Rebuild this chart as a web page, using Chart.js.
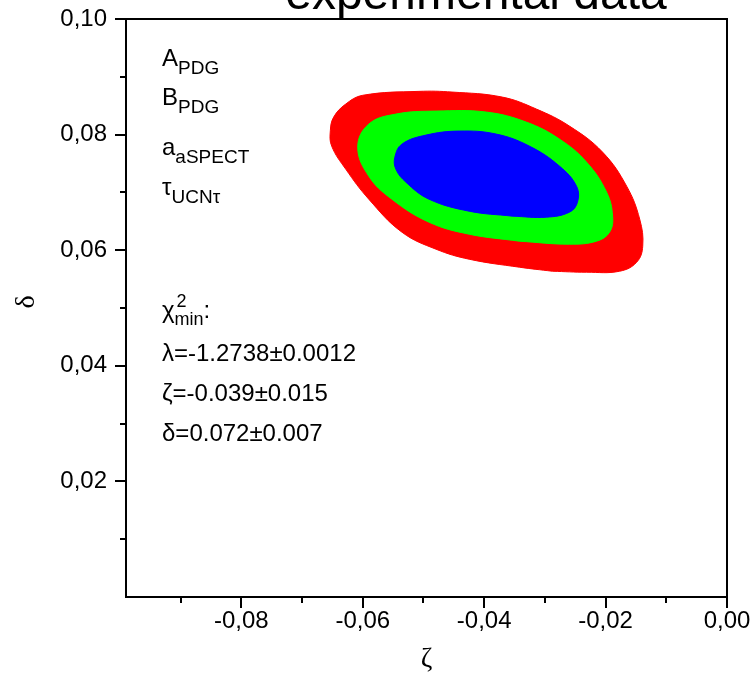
<!DOCTYPE html>
<html>
<head>
<meta charset="utf-8">
<script src="https://cdn.jsdelivr.net/npm/chart.js@4.4.1/dist/chart.umd.min.js"></script>
<style>
  html, body { margin: 0; padding: 0; background: #fff; }
  #wrap { width: 755px; height: 686px; }
</style>
</head>
<body>
<div id="wrap"><canvas id="myChart" width="755" height="686"></canvas></div>
<script>
// confidence contours (zeta, delta), outer to inner
const redZeta = [-0.02876, -0.03421, -0.04248, -0.04793, -0.05355, -0.05901, -0.06281, -0.06512, -0.06534, -0.06479, -0.06281, -0.06000, -0.05074, -0.04529, -0.03702, -0.03140, -0.02595, -0.02050, -0.01653, -0.01438, -0.01388, -0.01488, -0.01769, -0.02314, -0.02876];
const redDelta = [0.05636, 0.05706, 0.05844, 0.06017, 0.06312, 0.06883, 0.07403, 0.07801, 0.08066, 0.08303, 0.08528, 0.08680, 0.08748, 0.08736, 0.08649, 0.08442, 0.08147, 0.07697, 0.07108, 0.06537, 0.06069, 0.05792, 0.05636, 0.05619, 0.05636];

const greenZeta = [-0.03421, -0.04248, -0.04909, -0.05521, -0.05901, -0.06083, -0.05901, -0.05455, -0.04793, -0.03967, -0.03306, -0.02760, -0.02314, -0.01983, -0.01884, -0.01934, -0.02149, -0.02595, -0.03421];
const greenDelta = [0.06156, 0.06277, 0.06485, 0.06883, 0.07281, 0.07784, 0.08182, 0.08355, 0.08407, 0.08390, 0.08216, 0.07922, 0.07524, 0.07004, 0.06589, 0.06312, 0.06156, 0.06104, 0.06156];

const blueZeta = [-0.03537, -0.04248, -0.04909, -0.05289, -0.05455, -0.05471, -0.05355, -0.04959, -0.04413, -0.03802, -0.03256, -0.02760, -0.02479, -0.02463, -0.02595, -0.02975, -0.03537];
const blueDelta = [0.06589, 0.06675, 0.06883, 0.07177, 0.07403, 0.07610, 0.07835, 0.07991, 0.08061, 0.08009, 0.07801, 0.07455, 0.07108, 0.06831, 0.06658, 0.06571, 0.06589];

const xMajorTicks = [-0.08, -0.06, -0.04, -0.02, 0.0];
const xMinorTicks = [-0.09, -0.07, -0.05, -0.03, -0.01];
const yMajorTicks = [0.02, 0.04, 0.06, 0.08, 0.10];
const yMinorTicks = [0.01, 0.03, 0.05, 0.07, 0.09];

const toPoints = (xs, ys) => xs.map((v, i) => ({ x: v, y: ys[i] }));
const commaFmt = (v) => v.toFixed(2).replace(".", ",");

const SANS = "'Liberation Sans', Arial, sans-serif";
const SERIF = "'Liberation Serif', 'DejaVu Serif', serif";

// draws a line of text made of [text, kind] parts, kind: n / sub / both (sup over sub)
function drawRich(ctx, parts, x, y) {
  let cx = x;
  parts.forEach(([t, kind, t2]) => {
    if (kind === "n") {
      ctx.font = "24px " + SANS;
      ctx.fillText(t, cx, y);
      cx += ctx.measureText(t).width;
    } else if (kind === "sub") {
      ctx.font = "19px " + SANS;
      ctx.fillText(t, cx, y + 8);
      cx += ctx.measureText(t).width;
    } else if (kind === "both") {
      ctx.font = "18px " + SANS;
      ctx.fillText(t, cx + 2, y - 11);
      const w1 = ctx.measureText(t).width;
      ctx.fillText(t2, cx, y + 7);
      cx += Math.max(w1, ctx.measureText(t2).width);
    }
  });
}

const frameAndText = {
  id: "frameAndText",
  afterDraw(chart) {
    const {
      ctx,
      chartArea: { left, right, top, bottom },
      scales: { x, y },
    } = chart;
    ctx.save();
    ctx.strokeStyle = "#000";
    ctx.lineWidth = 2;
    ctx.strokeRect(left, top, right - left, bottom - top);

    ctx.beginPath();
    xMajorTicks.forEach((v) => {
      const px = Math.round(x.getPixelForValue(v));
      ctx.moveTo(px, bottom);
      ctx.lineTo(px, bottom + 11);
    });
    xMinorTicks.forEach((v) => {
      const px = Math.round(x.getPixelForValue(v));
      ctx.moveTo(px, bottom);
      ctx.lineTo(px, bottom + 6);
    });
    yMajorTicks.forEach((v) => {
      const py = Math.round(y.getPixelForValue(v));
      ctx.moveTo(left, py);
      ctx.lineTo(left - 11, py);
    });
    yMinorTicks.forEach((v) => {
      const py = Math.round(y.getPixelForValue(v));
      ctx.moveTo(left, py);
      ctx.lineTo(left - 6, py);
    });
    ctx.stroke();

    ctx.fillStyle = "#000";

    // title, cut by the top of the picture
    ctx.font = "48px " + SANS;
    ctx.textAlign = "center";
    ctx.textBaseline = "alphabetic";
    ctx.fillText("experimental data", 476, 9);

    // axis titles
    ctx.font = "28px " + SERIF;
    ctx.textBaseline = "middle";
    ctx.fillText("ζ", (left + right) / 2, 660);
    ctx.save();
    ctx.translate(27, 302);
    ctx.rotate(-Math.PI / 2);
    ctx.fillText("δ", 0, 0);
    ctx.restore();

    ctx.textAlign = "left";
    ctx.textBaseline = "alphabetic";
    const tx = 162;
    drawRich(ctx, [["A", "n"], ["PDG", "sub"]], tx, 66);
    drawRich(ctx, [["B", "n"], ["PDG", "sub"]], tx, 105);
    drawRich(ctx, [["a", "n"], ["aSPECT", "sub"]], tx, 155);
    drawRich(ctx, [["τ", "n"], ["UCNτ", "sub"]], tx, 195);

    drawRich(ctx, [["χ", "n"], ["2", "both", "min"], [":", "n"]], tx, 318);
    drawRich(ctx, [["λ=-1.2738±0.0012", "n"]], tx, 361);
    drawRich(ctx, [["ζ=-0.039±0.015", "n"]], tx, 401);
    drawRich(ctx, [["δ=0.072±0.007", "n"]], tx, 441);
    ctx.restore();
  },
};

const contour = (pts, color, order) => ({
  data: pts,
  showLine: true,
  fill: "shape",
  backgroundColor: color,
  borderColor: color,
  borderWidth: 1,
  pointRadius: 0,
  tension: 0.4,
  order: order,
});

new Chart(document.getElementById("myChart").getContext("2d"), {
  type: "scatter",
  data: {
    datasets: [
      contour(toPoints(redZeta, redDelta), "#FF0000", 3),
      contour(toPoints(greenZeta, greenDelta), "#00FF00", 2),
      contour(toPoints(blueZeta, blueDelta), "#0000FF", 1),
    ],
  },
  options: {
    responsive: false,
    animation: false,
    layout: { padding: { top: 19, right: 28, left: 0, bottom: 0 } },
    scales: {
      x: {
        type: "linear",
        min: -0.099,
        max: 0,
        afterBuildTicks: (scale) => {
          scale.ticks = xMajorTicks.map((v) => ({ value: v }));
        },
        afterFit: (scale) => {
          scale.height = 89;
          scale.paddingLeft = 0;
          scale.paddingRight = 0;
        },
        ticks: {
          color: "#000",
          font: { family: SANS, size: 24 },
          padding: 10,
          maxRotation: 0,
          autoSkip: false,
          callback: (v) => commaFmt(v),
        },
        grid: { display: false, drawTicks: false },
        border: { display: false },
      },
      y: {
        type: "linear",
        min: 0,
        max: 0.1,
        afterBuildTicks: (scale) => {
          scale.ticks = yMajorTicks.map((v) => ({ value: v }));
        },
        afterFit: (scale) => {
          scale.width = 126;
          scale.paddingTop = 0;
          scale.paddingBottom = 0;
        },
        ticks: {
          color: "#000",
          font: { family: SANS, size: 24 },
          padding: 19,
          autoSkip: false,
          callback: (v) => commaFmt(v),
        },
        grid: { display: false, drawTicks: false },
        border: { display: false },
      },
    },
    plugins: {
      legend: { display: false },
      tooltip: { enabled: false },
    },
  },
  plugins: [frameAndText],
});
</script>
</body>
</html>
